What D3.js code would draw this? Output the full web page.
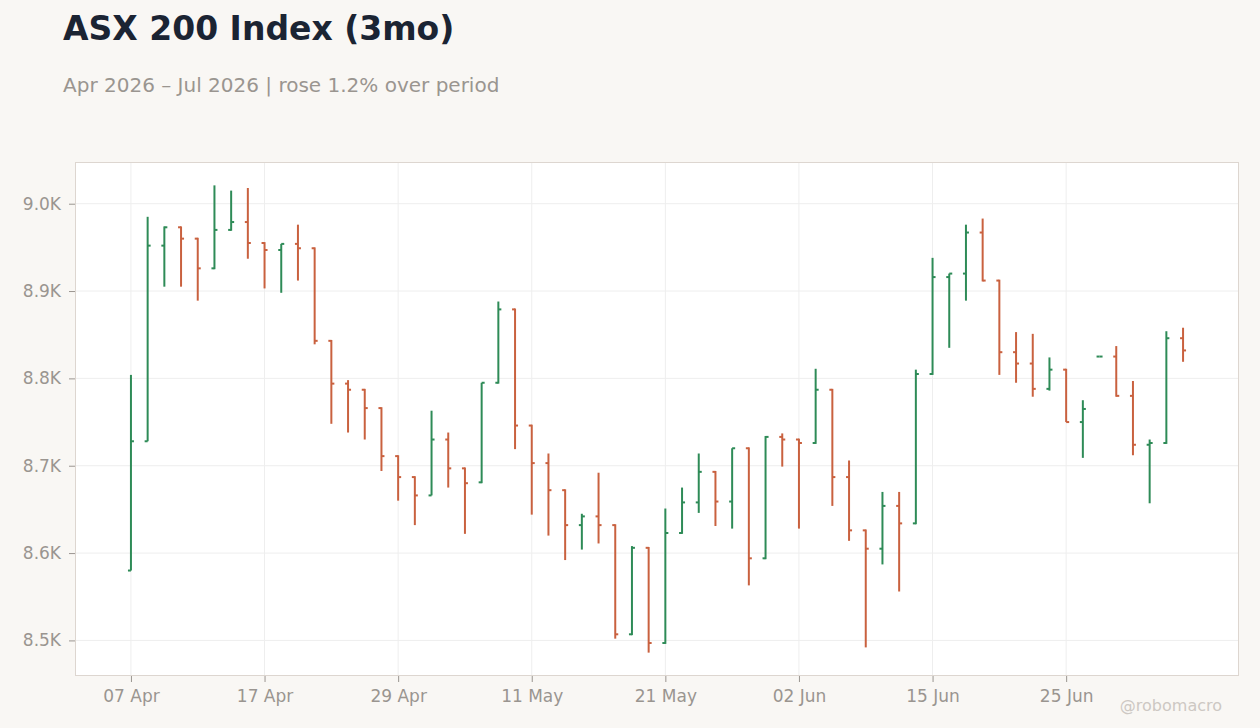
<!DOCTYPE html>
<html>
<head>
<meta charset="utf-8">
<script src="https://cdn.jsdelivr.net/npm/d3@7"></script>
<style>
  body { margin: 0; background: #f9f7f4; }
  svg { display: block; font-family: "DejaVu Sans", sans-serif; }
  .axis text { fill: #9a9590; font-size: 17px; font-family: "DejaVu Sans", sans-serif; }
  .axis line { stroke: #9a9590; }
  .axis path { display: none; }
  .grid line { stroke: #eeeeee; }
</style>
</head>
<body>
<svg id="chart"></svg>
<script>
// trading days, Apr - Jul 2026
var dates = [
  "2026-04-07","2026-04-08","2026-04-09","2026-04-10","2026-04-13","2026-04-14","2026-04-15","2026-04-16",
  "2026-04-17","2026-04-20","2026-04-21","2026-04-22","2026-04-23","2026-04-24","2026-04-27","2026-04-28",
  "2026-04-29","2026-04-30","2026-05-01","2026-05-04","2026-05-05","2026-05-06","2026-05-07","2026-05-08",
  "2026-05-11","2026-05-12","2026-05-13","2026-05-14","2026-05-15","2026-05-18","2026-05-19","2026-05-20",
  "2026-05-21","2026-05-22","2026-05-25","2026-05-26","2026-05-27","2026-05-28","2026-05-29","2026-06-01",
  "2026-06-02","2026-06-03","2026-06-04","2026-06-05","2026-06-09","2026-06-10","2026-06-11","2026-06-12",
  "2026-06-15","2026-06-16","2026-06-17","2026-06-18","2026-06-19","2026-06-22","2026-06-23","2026-06-24",
  "2026-06-25","2026-06-26","2026-06-29","2026-06-30","2026-07-01","2026-07-02","2026-07-03","2026-07-06"
];

var open = [
  8580, 8728, 8952, 8973, 8960, 8926, 8970, 8979, 8955, 8947, 8954, 8949, 8843, 8794, 8787, 8766,
  8711, 8687, 8666, 8730, 8697, 8681, 8795, 8879, 8746, 8703, 8672, 8632, 8642, 8632, 8507, 8606,
  8497, 8623, 8658, 8693, 8659, 8720, 8594, 8733, 8730, 8726, 8787, 8687, 8626, 8605, 8654, 8634,
  8805, 8916, 8920, 8967, 8912, 8830, 8817, 8788, 8810, 8750, 8825, 8825, 8780, 8724, 8726, 8846
];
var high = [
  8804, 8985, 8974, 8974, 8961, 9021, 9015, 9018, 8956, 8954, 8976, 8950, 8844, 8798, 8788, 8767,
  8712, 8688, 8763, 8738, 8698, 8795, 8888, 8880, 8747, 8714, 8673, 8645, 8692, 8633, 8608, 8607,
  8651, 8675, 8714, 8694, 8720, 8721, 8734, 8737, 8731, 8811, 8788, 8706, 8627, 8670, 8670, 8810,
  8938, 8920, 8976, 8983, 8913, 8853, 8851, 8824, 8811, 8775, 8825, 8837, 8797, 8730, 8854, 8858
];
var low = [
  8580, 8728, 8905, 8905, 8889, 8925, 8969, 8937, 8903, 8898, 8912, 8839, 8748, 8738, 8730, 8694,
  8660, 8632, 8666, 8675, 8622, 8680, 8794, 8719, 8644, 8620, 8592, 8604, 8611, 8502, 8506, 8486,
  8496, 8622, 8646, 8631, 8628, 8563, 8593, 8699, 8628, 8725, 8654, 8614, 8492, 8587, 8556, 8633,
  8804, 8835, 8889, 8911, 8804, 8795, 8779, 8786, 8750, 8709, 8825, 8779, 8712, 8657, 8725, 8819
];
var close = [
  8728, 8952, 8973, 8960, 8926, 8970, 8979, 8955, 8947, 8954, 8949, 8843, 8794, 8787, 8766, 8711,
  8687, 8666, 8730, 8697, 8680, 8795, 8879, 8746, 8703, 8672, 8632, 8642, 8632, 8507, 8606, 8497,
  8623, 8658, 8693, 8659, 8720, 8594, 8733, 8730, 8726, 8787, 8687, 8626, 8605, 8654, 8634, 8805,
  8916, 8920, 8967, 8912, 8830, 8817, 8788, 8810, 8750, 8765, 8825, 8780, 8724, 8726, 8846, 8832
];

var yTicks = [8500, 8600, 8700, 8800, 8900, 9000];
var tickEvery = 8;

var w = 1260;
var h = 728;
var plot = { left: 75, top: 162, right: 1239, bottom: 676 };
var up = "#2e8b57";
var down = "#c9613f";

var parseDate = d3.timeParse("%Y-%m-%d");
var fmtDate = d3.timeFormat("%d %b");

var bars = dates.map(function(d, i) {
  return { i: i, date: parseDate(d), o: open[i], h: high[i], l: low[i], c: close[i] };
});

var svg = d3.select("#chart")
  .attr("width", w)
  .attr("height", h);

// titles
svg.append("text")
  .text("ASX 200 Index (3mo)")
  .attr("x", 63)
  .attr("y", 40)
  .attr("font-size", "33px")
  .attr("font-weight", "bold")
  .attr("fill", "#1b2433");

svg.append("text")
  .text("Apr 2026 \u2013 Jul 2026 | rose 1.2% over period")
  .attr("x", 63)
  .attr("y", 92)
  .attr("font-size", "20px")
  .attr("fill", "#9a9590");

// scales
var pad = 3.35;
var xScale = d3.scaleLinear()
  .domain([-pad, bars.length - 1 + pad])
  .range([plot.left, plot.right]);

var yMin = d3.min(low), yMax = d3.max(high);
var yPad = (yMax - yMin) * 0.05;
var yScale = d3.scaleLinear()
  .domain([yMin - yPad, yMax + yPad])
  .range([plot.bottom, plot.top]);

// plot background
svg.append("rect")
  .attr("x", plot.left)
  .attr("y", plot.top)
  .attr("width", plot.right - plot.left)
  .attr("height", plot.bottom - plot.top)
  .attr("fill", "#ffffff");

var xTickIdx = d3.range(0, bars.length, tickEvery);

// gridlines
var grid = svg.append("g").attr("class", "grid");

grid.selectAll("line.h")
  .data(yTicks)
  .enter()
  .append("line")
  .attr("class", "h")
  .attr("x1", plot.left)
  .attr("x2", plot.right)
  .attr("y1", function(d) { return yScale(d); })
  .attr("y2", function(d) { return yScale(d); });

grid.selectAll("line.v")
  .data(xTickIdx)
  .enter()
  .append("line")
  .attr("class", "v")
  .attr("y1", plot.top)
  .attr("y2", plot.bottom)
  .attr("x1", function(d) { return xScale(d); })
  .attr("x2", function(d) { return xScale(d); });

// border
svg.append("rect")
  .attr("x", plot.left + 0.5)
  .attr("y", plot.top + 0.5)
  .attr("width", plot.right - plot.left - 1)
  .attr("height", plot.bottom - plot.top - 1)
  .attr("fill", "none")
  .attr("stroke", "#ddd6d0");

// axes
var yAxis = d3.axisLeft(yScale)
  .tickValues(yTicks)
  .tickSize(6)
  .tickSizeOuter(0)
  .tickPadding(8)
  .tickFormat(function(d) { return d3.format(".1f")(d / 1000) + "K"; });

var xAxis = d3.axisBottom(xScale)
  .tickValues(xTickIdx)
  .tickSize(6)
  .tickSizeOuter(0)
  .tickPadding(8)
  .tickFormat(function(d) { return fmtDate(bars[d].date); });

svg.append("g")
  .attr("class", "axis")
  .attr("transform", "translate(" + plot.left + ",0)")
  .call(yAxis)
  .attr("font-family", null)
  .attr("font-size", null);

svg.append("g")
  .attr("class", "axis")
  .attr("transform", "translate(0," + plot.bottom + ")")
  .call(xAxis)
  .attr("font-family", null)
  .attr("font-size", null);

// ohlc bars
var g = svg.append("g")
  .selectAll("g")
  .data(bars)
  .enter()
  .append("g")
  .attr("stroke", function(d) { return d.c >= d.o ? up : down; })
  .attr("stroke-width", 2);

g.append("line")
  .attr("x1", function(d) { return xScale(d.i); })
  .attr("x2", function(d) { return xScale(d.i); })
  .attr("y1", function(d) { return yScale(d.h); })
  .attr("y2", function(d) { return yScale(d.l); });

g.append("line")
  .attr("x1", function(d) { return xScale(d.i) - 3; })
  .attr("x2", function(d) { return xScale(d.i); })
  .attr("y1", function(d) { return yScale(d.o); })
  .attr("y2", function(d) { return yScale(d.o); });

g.append("line")
  .attr("x1", function(d) { return xScale(d.i); })
  .attr("x2", function(d) { return xScale(d.i) + 3; })
  .attr("y1", function(d) { return yScale(d.c); })
  .attr("y2", function(d) { return yScale(d.c); });

// watermark
svg.append("text")
  .text("@robomacro")
  .attr("x", 1222)
  .attr("y", 711)
  .attr("text-anchor", "end")
  .attr("font-size", "16px")
  .attr("fill", "#cdc8c3");
</script>
</body>
</html>
